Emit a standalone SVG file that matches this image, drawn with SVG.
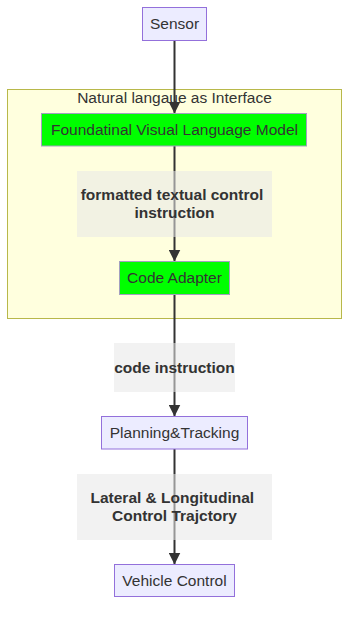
<svg xmlns="http://www.w3.org/2000/svg" width="357" height="617" viewBox="0 0 357 617">
  <style>
    .node rect { fill: #ECECFF; stroke: #9370DB; stroke-width: 1; }
    .node.green rect { fill: #00ff00; stroke: #a39fc0; }
    .node text { font-family: "Liberation Sans", Arial, sans-serif; font-size: 15.5px; fill: #333; text-anchor: middle; dominant-baseline: central; }
    .cluster rect { fill: #ffffde; stroke: #b8b84a; stroke-width: 1; }
    .cluster text { font-family: "Liberation Sans", Arial, sans-serif; font-size: 15.5px; fill: #333; text-anchor: middle; dominant-baseline: central; }
    .edge { stroke: #333; stroke-width: 2; fill: none; }
    .edgeLabel rect { fill: rgba(232,232,232,0.55); }
    .edgeLabel text { font-family: "Liberation Sans", Arial, sans-serif; font-size: 15.5px; font-weight: bold; fill: #333; text-anchor: middle; dominant-baseline: central; }
  </style>
  <defs>
    <marker id="arrow" viewBox="0 0 12 12" refX="12" refY="6" markerWidth="12" markerHeight="12" markerUnits="userSpaceOnUse" orient="auto">
      <path d="M0,0 L12,6 L0,12 z" fill="#333"/>
    </marker>
  </defs>

  <!-- subgraph -->
  <g id="cluster-interface" class="cluster">
    <rect x="7.5" y="89.5" width="334" height="229"/>
    <text x="174.5" y="97.7">Natural langaue as Interface</text>
  </g>

  <!-- connectors -->
  <g id="edges">
    <path class="edge" d="M174.5,40.5 L174.5,113.5" marker-end="url(#arrow)"/>
    <path class="edge" d="M174.5,146 L174.5,261.5" marker-end="url(#arrow)"/>
    <path class="edge" d="M174.5,294.5 L174.5,416.5" marker-end="url(#arrow)"/>
    <path class="edge" d="M174.5,449 L174.5,564.5" marker-end="url(#arrow)"/>
  </g>

  <!-- edge labels -->
  <g id="label-textual" class="edgeLabel">
    <rect x="77" y="171" width="195" height="66"/>
    <text x="172" y="194.3">formatted textual control</text>
    <text x="174.5" y="212.3">instruction</text>
  </g>
  <g id="label-code" class="edgeLabel">
    <rect x="114" y="343" width="121" height="49"/>
    <text x="174.5" y="367.3">code instruction</text>
  </g>
  <g id="label-trajectory" class="edgeLabel">
    <rect x="77" y="474" width="195" height="66"/>
    <text x="172.3" y="497.3">Lateral &amp; Longitudinal</text>
    <text x="174.5" y="515.3">Control Trajctory</text>
  </g>

  <!-- nodes -->
  <g id="sensor" class="node">
    <rect x="142.5" y="7.5" width="64" height="33"/>
    <text x="174.5" y="23.7">Sensor</text>
  </g>
  <g id="vlm" class="node green">
    <rect x="41.5" y="113.5" width="265" height="32.5"/>
    <text x="174.5" y="129.5">Foundatinal Visual Language Model</text>
  </g>
  <g id="code-adapter" class="node green">
    <rect x="119.5" y="261.5" width="110" height="33"/>
    <text x="174.5" y="277.5">Code Adapter</text>
  </g>
  <g id="planning" class="node">
    <rect x="101.5" y="416.5" width="146" height="32.5"/>
    <text x="174.5" y="432.3">Planning&amp;Tracking</text>
  </g>
  <g id="vehicle-control" class="node">
    <rect x="114.5" y="564.5" width="120" height="32"/>
    <text x="174.5" y="580.3">Vehicle Control</text>
  </g>
</svg>
